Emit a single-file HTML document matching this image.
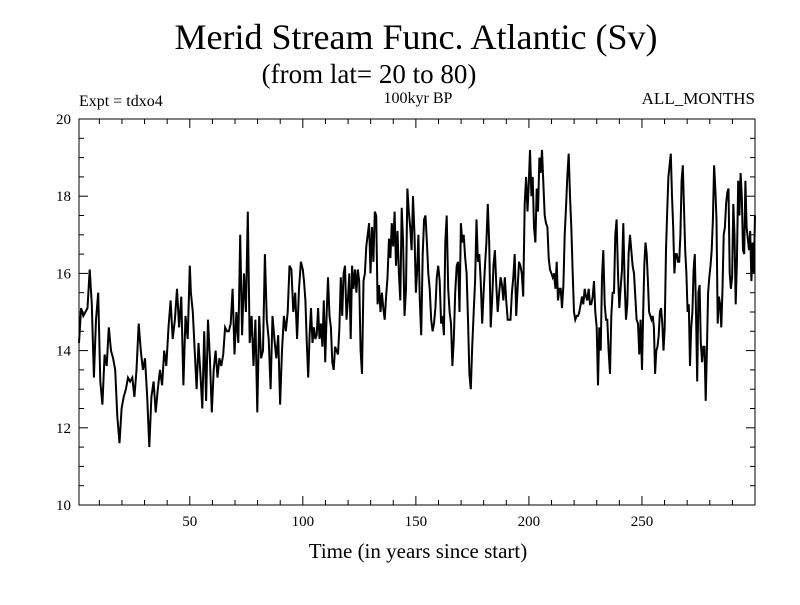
<!DOCTYPE html>
<html><head><meta charset="utf-8"><style>
body{margin:0;background:#fff;}
svg text{font-family:"Liberation Serif",serif;fill:#000;}
</style></head><body>
<svg id="c" width="800" height="600" viewBox="0 0 800 600" xmlns="http://www.w3.org/2000/svg">
<rect width="800" height="600" fill="#fff"/>
<text x="416" y="49" font-size="36" text-anchor="middle">Merid Stream Func. Atlantic (Sv)</text>
<text x="369" y="83" font-size="27" text-anchor="middle">(from lat= 20 to 80)</text>
<text x="79" y="106" font-size="16">Expt = tdxo4</text>
<text x="418" y="103" font-size="16" text-anchor="middle">100kyr BP</text>
<text x="755" y="104" font-size="17" text-anchor="end">ALL_MONTHS</text>
<text x="418" y="558" font-size="21" text-anchor="middle">Time (in years since start)</text>
<g id="axes"></g>
<path id="line" fill="none" stroke="#000" stroke-width="2"/>
</svg>
<script>
const yTicks=[10,12,14,16,18,20];
const xTicks=[50,100,150,200,250];
const segStarts=[1,50.5,100.5,150.5,200.5,250.5];
const segEnds=[50,100,150,200,250,300];
const seg1=[14.2,15.1,14.9,15.0,15.1,16.1,15.2,13.3,14.8,15.5,13.2,12.6,13.9,13.6,14.6,14.0,13.8,13.5,12.3,11.6,12.5,12.8,13.0,13.3,13.2,13.3,12.8,13.5,14.7,14.0,13.5,13.8,12.8,11.5,12.8,13.2,12.4,13.0,13.5,13.1,14.0,13.6,14.6,15.3,14.3,14.8,15.6,14.6,15.4,13.1,14.9,14.3,16.2];
const seg2=[15.5,15.0,14.0,13.0,14.2,13.4,12.5,14.5,12.7,14.8,13.8,12.4,13.5,14.0,13.3,13.8,13.6,13.9,14.6,14.5,14.5,14.7,15.6,13.9,15.0,14.2,17.0,14.4,16.0,15.0,17.6,14.2,14.9,13.6,14.8,12.4,14.9,13.8,14.0,16.5,14.8,14.3,13.0,14.9,14.3,13.8,14.4,12.6,14.0,14.9,14.5,15.0,16.2,16.1,15.0,15.5,14.3,15.6,16.3,16.1];
const seg3=[15.8,15.3,14.2,13.3,14.4,15.1,14.2,14.6,14.3,14.4,15.1,14.3,14.7,14.1,15.3,13.7,14.9,15.9,14.9,14.6,13.7,13.5,14.1,14.0,13.9,14.6,15.9,14.9,16.0,16.2,14.8,15.3,16.0,14.3,16.2,15.6,16.1,15.5,16.1,15.8,14.0,13.4,15.8,16.0,16.7,17.0,17.3,16.0,17.2,16.3,17.6,17.5,15.2,15.7,15.0,15.5,15.1,14.8,15.4,15.9,16.9,16.4,17.3,16.7,17.6,16.2,17.1,16.0,15.3,17.7,16.8,14.9,15.6,18.2,17.6,17.2,16.6,18.0,17.0,15.5];
const seg4=[16.0,17.0,15.3,14.4,16.5,17.4,17.5,16.8,16.0,15.6,14.8,14.5,14.7,15.1,15.9,16.2,15.8,14.7,14.9,14.4,16.8,17.5,15.6,15.0,14.7,13.6,14.3,15.5,16.2,16.3,15.0,17.3,16.8,17.0,16.4,16.0,14.8,13.4,13.0,14.1,15.0,15.8,17.4,16.3,16.5,15.8,14.7,15.5,16.2,16.8,17.8,16.8,14.6,15.3,16.2,16.6,15.7,15.0,15.5,15.9,15.7,15.3,15.9,15.3,14.8,14.8,14.8,15.5,15.9,16.5,14.9,15.6,16.3,16.2,16.0,15.4,17.8,18.5,17.6,18.4];
const seg5=[19.2,18.0,18.5,17.2,16.8,18.2,17.6,19.0,18.6,19.2,18.3,17.5,17.3,17.2,16.4,16.1,16.0,15.9,16.0,15.6,16.3,15.3,15.6,15.6,15.1,15.7,17.0,17.7,18.5,19.1,18.0,17.2,16.0,15.0,14.8,14.9,14.9,15.0,15.2,15.4,15.2,15.6,15.4,15.3,15.6,15.2,15.2,15.4,15.8,15.0,14.6,13.1,14.6,14.0,15.9,16.6,15.2,14.8,14.8,14.0,13.4,14.9,15.5,15.5,17.0,17.4,16.0,15.1,15.6,16.1,17.3,15.8,14.8,15.2,16.5,17.0,16.6,16.2,16.0,15.4,14.8,14.7,13.9,14.8,13.5];
const seg6=[14.9,16.2,16.8,16.5,15.8,15.0,14.9,14.8,14.9,14.6,13.4,14.0,14.1,14.4,15.0,15.1,14.7,14.0,14.6,16.6,17.6,18.5,18.8,19.1,18.0,17.2,16.0,16.5,16.5,16.3,16.3,17.0,18.4,18.8,17.7,16.6,16.0,15.0,15.2,13.6,14.6,15.0,16.1,16.5,15.0,13.2,15.5,15.7,14.2,13.7,14.1,14.1,12.7,14.0,15.5,15.9,16.2,16.6,17.4,18.8,18.2,17.4,14.7,15.4,15.2,14.6,15.6,17.0,17.2,17.8,18.1,18.2,16.0,15.6,15.9,17.8,17.0,15.2,16.3,18.4,17.5,18.6,18.0,16.6,16.5,18.4,17.2,16.9,16.6,17.1,15.8,16.8,16.0,17.5];
const segs=[seg1,seg2,seg3,seg4,seg5,seg6];
const L=79,R=755,T=119,B=505,X0=1,X1=300;
const sx=v=>L+(v-X0)/(X1-X0)*(R-L);
const sy=v=>B-(v-10)/10*(B-T);
const ns="http://www.w3.org/2000/svg";
const ax=document.getElementById('axes');
function mk(tag,attrs){const e=document.createElementNS(ns,tag);for(const k in attrs)e.setAttribute(k,attrs[k]);ax.appendChild(e);return e;}
const frame=mk('rect',{x:L,y:T,width:R-L,height:B-T,fill:'none',stroke:'#000','stroke-width':1});


for(let v=10;v<=20;v+=0.5){const y=sy(v);const len=(v%2===0)?9:5;
 mk('line',{x1:L,y1:y,x2:L+len,y2:y,stroke:'#000'});mk('line',{x1:R,y1:y,x2:R-len,y2:y,stroke:'#000'});}
yTicks.forEach(v=>{const t=mk('text',{x:L-8,y:sy(v)+5,'font-size':15,'text-anchor':'end'});t.textContent=v;
 
 });
for(let v=10;v<=300;v+=10){const x=sx(v);const len=(v%50===0)?9:5;
 mk('line',{x1:x,y1:B,x2:x,y2:B-len,stroke:'#000'});mk('line',{x1:x,y1:T,x2:x,y2:T+len,stroke:'#000'});}
xTicks.forEach(v=>{const t=mk('text',{x:sx(v),y:B+21,'font-size':15,'text-anchor':'middle'});t.textContent=v;
 
 });
let d='';
segs.forEach((s,k)=>{const a=segStarts[k],b=segEnds[k];
 s.forEach((v,i)=>{const yr=a+i*(b-a)/(s.length-1);d+=(d?'L':'M')+sx(yr).toFixed(1)+','+sy(v).toFixed(1);});});
document.getElementById('line').setAttribute('d',d);
</script>
</body></html>
